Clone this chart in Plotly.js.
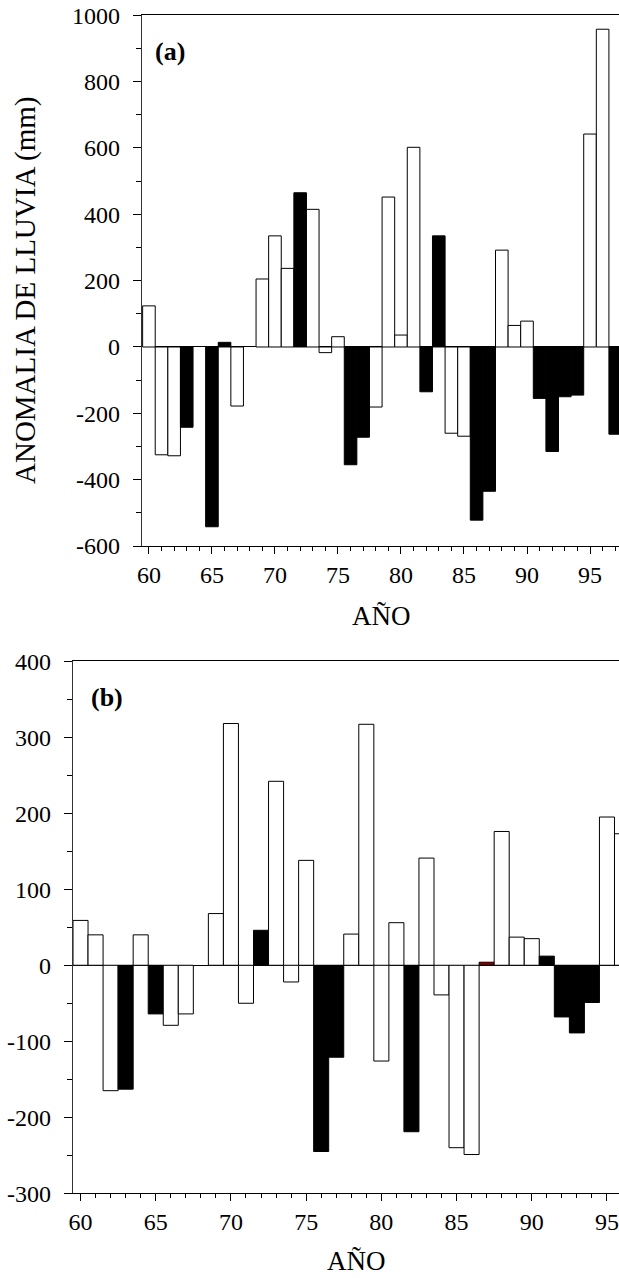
<!DOCTYPE html>
<html>
<head>
<meta charset="utf-8">
<script src="https://cdn.plot.ly/plotly-3.0.1.min.js"></script>
<style>html,body{margin:0;padding:0;background:#fff;}#chart{width:619px;height:1278px;}</style>
</head>
<body>
<div id="chart"></div>
<script>
// Panel (a): anomalía de lluvia (mm), años 1960-1997
var yearsA = [60,61,62,63,64,65,66,67,68,69,70,71,72,73,74,75,76,77,78,79,80,81,82,83,84,85,86,87,88,89,90,91,92,93,94,95,96,97];
var anomA  = [124,-325,-328,-242,null,-542,14,-178,null,205,335,237,465,415,-17,31,-355,-272,-181,452,36,602,-135,335,-260,-269,-522,-435,292,65,78,-155,-315,-150,-145,642,958,-263];
// fase: 'B' = barra negra, 'W' = barra blanca, 'R' = barra roja
var faseA  = ['W','W','W','B','W','B','B','W','W','W','W','W','B','W','W','W','B','B','W','W','W','W','B','B','W','W','B','B','W','W','W','B','B','B','B','W','W','B'];

// Panel (b): años 1960-1996
var yearsB = [60,61,62,63,64,65,66,67,68,69,70,71,72,73,74,75,76,77,78,79,80,81,82,83,84,85,86,87,88,89,90,91,92,93,94,95,96];
var anomB  = [59,40,-165,-163,40,-64,-79,-64,null,68,318,-50,46,242,-22,138,-245,-121,41,317,-126,56,-219,141,-39,-240,-249,4,176,37,35,12,-68,-89,-49,195,173];
var faseB  = ['W','W','W','B','W','B','W','W','W','W','W','W','B','W','W','W','B','B','W','W','W','W','B','W','W','W','W','R','W','W','W','B','B','B','B','W','W'];

// Tick labels
var yTickValsA = [-600,-400,-200,0,200,400,600,800,1000];
var yTickTextA = ['-600','-400','-200','0','200','400','600','800','1000'];
var yTickValsB = [-300,-200,-100,0,100,200,300,400];
var yTickTextB = ['-300','-200','-100','0','100','200','300','400'];
var xTickVals  = [60,65,70,75,80,85,90,95];
var xTickText  = ['60','65','70','75','80','85','90','95'];

var xTitle = 'AÑO';
var yTitle = 'ANOMALIA DE LLUVIA (mm)';

var colorMap = {B:'#000000', W:'#ffffff', R:'#8b0000'};
function fills(f){ return f.map(function(k){ return colorMap[k]; }); }

var W = 619, H = 1278;
function py(px){ return 1 - px / H; }
function pxx(px){ return px / W; }

var serif = "'Liberation Serif', 'Times New Roman', serif";
var tickFont = {family: serif, size: 24, color: '#000'};

var traces = [
  {type:'bar', x: yearsA, y: anomA, width: 1, xaxis:'x', yaxis:'y',
   marker:{color: fills(faseA), line:{color:'#000', width:1}}, hoverinfo:'x+y'},
  {type:'bar', x: yearsB, y: anomB, width: 1, xaxis:'x2', yaxis:'y2',
   marker:{color: fills(faseB), line:{color:'#000', width:1}}, hoverinfo:'x+y'}
];

function xax(domain, range, anchor){
  return {domain: domain, range: range, anchor: anchor,
    tickmode:'array', tickvals: xTickVals, ticktext: xTickText,
    ticks:'outside', ticklen: 7, tickwidth: 1, tickcolor:'#000',
    showline: true, linecolor:'#000', linewidth: 1, mirror: true,
    showgrid: false, zeroline: false, tickfont: tickFont, automargin: false,
    minor:{tickmode:'linear', tick0: 60, dtick: 1, ticks:'outside', ticklen: 4, tickwidth: 1, tickcolor:'#000', showgrid:false}};
}
function yax(domain, range, vals, text, minorStep, anchor){
  return {domain: domain, range: range, anchor: anchor,
    tickmode:'array', tickvals: vals, ticktext: text,
    ticks:'outside', ticklen: 8, tickwidth: 1, tickcolor:'#000',
    ticklabelstandoff: 8,
    showline: true, linecolor:'#333', linewidth: 1.3, mirror: false,
    showgrid: false, zeroline: true, zerolinecolor:'#000', zerolinewidth: 1,
    tickfont: tickFont, automargin: false,
    minor:{tickmode:'linear', tick0: 0, dtick: minorStep, ticks:'outside', ticklen: 5, tickwidth: 1, tickcolor:'#000', showgrid:false}};
}

var layout = {
  width: W, height: H,
  margin: {l:0, r:0, t:0, b:0},
  paper_bgcolor:'#fff', plot_bgcolor:'#fff',
  showlegend: false, bargap: 0,
  xaxis:  xax([pxx(142), 1], [59.45, 97.3], 'y'),
  yaxis:  yax([py(546), py(15.3)], [-600, 1000], yTickValsA, yTickTextA, 100, 'x'),
  xaxis2: xax([pxx(73), 1], [59.5, 95.8], 'y2'),
  yaxis2: yax([py(1193.3), py(661.2)], [-300, 400], yTickValsB, yTickTextB, 50, 'x2'),
  annotations: [
    {xref:'x', yref:'y', x: 60.3, y: 890, xanchor:'left', yanchor:'middle', showarrow:false,
     text:'<b>(a)</b>', font:{family: serif, size: 26, color:'#000'}},
    {xref:'x2', yref:'y2', x: 60.55, y: 352, xanchor:'left', yanchor:'middle', showarrow:false,
     text:'<b>(b)</b>', font:{family: serif, size: 26, color:'#000'}},
    {xref:'paper', yref:'paper', x: pxx(381), y: py(616), xanchor:'center', yanchor:'middle', showarrow:false,
     text: xTitle, font:{family: serif, size: 27, color:'#000'}},
    {xref:'paper', yref:'paper', x: pxx(356), y: py(1261), xanchor:'center', yanchor:'middle', showarrow:false,
     text: xTitle, font:{family: serif, size: 27, color:'#000'}},
    {xref:'paper', yref:'paper', x: pxx(25), y: py(291), xanchor:'center', yanchor:'middle', showarrow:false,
     textangle: -90, text: yTitle, font:{family: serif, size: 29, color:'#000'}}
  ]
};

Plotly.newPlot('chart', traces, layout, {staticPlot: true});
</script>
</body>
</html>
